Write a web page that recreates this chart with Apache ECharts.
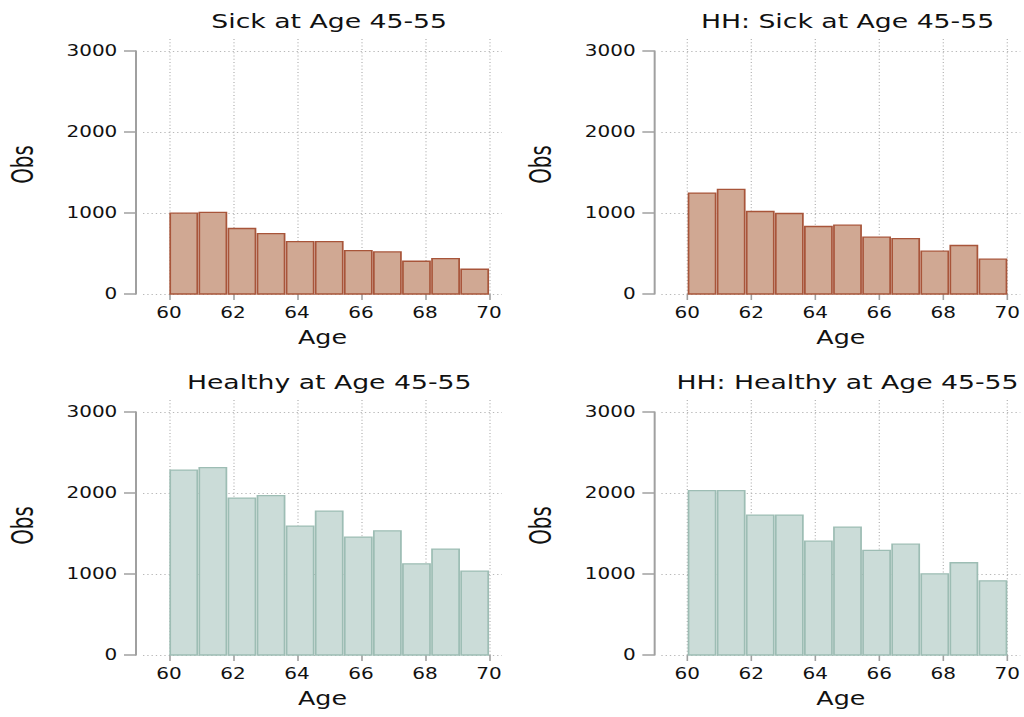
<!DOCTYPE html>
<html>
<head>
<meta charset="utf-8">
<script src="https://cdn.jsdelivr.net/npm/echarts@6/dist/echarts.min.js"></script>
<style>
html,body{margin:0;padding:0;background:#fff;overflow:hidden;}
#wrap{width:1024px;height:717px;overflow:hidden;}
#chart{width:768px;height:717px;transform:scaleX(1.3333333);transform-origin:0 0;}
</style>
</head>
<body>
<div id="wrap"><div id="chart"></div></div>
<script>
// ---- data ----
const panelTitles = ['Sick at Age 45-55', 'HH: Sick at Age 45-55', 'Healthy at Age 45-55', 'HH: Healthy at Age 45-55'];
const binStart = 60;
const binEnd = 70;
const binCount = 11;
const sickObs = [1005, 1014, 816, 754, 655, 655, 544, 527, 412, 445, 313];
const hhSickObs = [1253, 1298, 1026, 1001, 841, 857, 709, 692, 536, 606, 437];
const healthyObs = [2291, 2320, 1945, 1974, 1599, 1784, 1463, 1541, 1133, 1315, 1043];
const hhHealthyObs = [2036, 2036, 1735, 1735, 1413, 1587, 1298, 1376, 1010, 1146, 923];
const xTickValues = [60, 62, 64, 66, 68, 70];
const yTickValues = [0, 1000, 2000, 3000];
const xAxisName = 'Age';
const yAxisName = 'Obs';

// ---- styles / layout ----
const FONT = 'DejaVu Sans';
const NAME_FONT = '"DejaVu Sans Condensed", "Liberation Sans Narrow", "DejaVu Sans"';
const sickFill = '#d0a893', sickStroke = '#a8553a';
const healthyFill = '#cbdcd8', healthyStroke = '#9dbdb4';
const axisGray = '#a0a0a0';
const dotGray = '#b8b8b8';
const xMin = 59.1875, xMax = 70.406;
const panels = [
  {left: 107.25, top: 51,  vals: sickObs,      fill: sickFill,    stroke: sickStroke},
  {left: 496,    top: 51,  vals: hhSickObs,    fill: sickFill,    stroke: sickStroke},
  {left: 107.25, top: 412, vals: healthyObs,   fill: healthyFill, stroke: healthyStroke},
  {left: 496,    top: 412, vals: hhHealthyObs, fill: healthyFill, stroke: healthyStroke}
];
const gridW = 269.25, gridH = 243;

function makeBins(vals) {
  const w = (binEnd - binStart) / binCount;
  return vals.map((v, i) => [binStart + i * w, binStart + (i + 1) * w, v]);
}

const grid = [], xAxis = [], yAxis = [], series = [], title = [];
panels.forEach((p, i) => {
  grid.push({left: p.left, top: p.top, width: gridW, height: gridH, containLabel: false});
  title.push({
    text: panelTitles[i], left: p.left + gridW / 2, top: p.top - 45, textAlign: 'center',
    textStyle: {fontFamily: FONT, fontSize: 20, fontWeight: 'normal', color: '#111'}
  });
  xAxis.push({
    type: 'value', gridIndex: i, min: xMin, max: xMax,
    axisLine: {show: false},
    axisTick: {show: true, customValues: xTickValues, length: 6, lineStyle: {color: axisGray, width: 1.2}},
    axisLabel: {customValues: xTickValues, margin: 11, fontFamily: FONT, fontSize: 15, color: '#111'},
    splitLine: {show: false},
    name: xAxisName, nameLocation: 'middle', nameGap: 34,
    nameTextStyle: {fontFamily: FONT, fontSize: 19, color: '#111'}
  });
  yAxis.push({
    type: 'value', gridIndex: i, min: 0, max: 3000, interval: 1000, offset: 5.25,
    axisLine: {show: true, lineStyle: {color: axisGray, width: 1.5}},
    axisTick: {show: true, length: 9, lineStyle: {color: axisGray, width: 1.5}},
    axisLabel: {margin: 14, fontFamily: FONT, fontSize: 15, color: '#111', formatter: v => String(v)},
    splitLine: {show: true, lineStyle: {color: dotGray, width: 1, type: [1, 2.2]}},
    name: yAxisName, nameLocation: 'middle', nameGap: 74,
    nameTextStyle: {fontFamily: NAME_FONT, fontSize: 22, color: '#111', padding: [0, 0, 0, 16]}
  });
  series.push({
    type: 'custom', xAxisIndex: i, yAxisIndex: i,
    data: makeBins(p.vals),
    encode: {x: [0, 1], y: 2},
    z: 3,
    renderItem: (params, api) => {
      const a = api.coord([api.value(0), api.value(2)]);
      const b = api.coord([api.value(1), 0]);
      return {
        type: 'rect',
        shape: {x: a[0] + 0.9, y: a[1] + 0.6, width: b[0] - a[0] - 1.5, height: b[1] - a[1] - 0.6},
        style: {fill: p.fill, stroke: p.stroke, lineWidth: 1.3}
      };
    }
  });
});
// background grids for the vertical dotted gridlines
panels.forEach((p, i) => {
  const gi = panels.length + i;
  grid.push({left: p.left, top: p.top - 12, width: gridW, height: gridH + 12});
  xAxis.push({
    type: 'value', gridIndex: gi, min: xMin, max: xMax,
    axisLine: {show: false},
    axisTick: {show: false, customValues: xTickValues},
    axisLabel: {show: false, customValues: xTickValues},
    splitLine: {show: true, lineStyle: {color: dotGray, width: 1, type: [1, 2.3]}}
  });
  yAxis.push({type: 'value', gridIndex: gi, min: 0, max: 1, show: false, splitLine: {show: false}});
});

const chart = echarts.init(document.getElementById('chart'), null, {renderer: 'svg', width: 768, height: 717});
chart.setOption({
  backgroundColor: '#fff',
  animation: false,
  title, grid, xAxis, yAxis, series
});
</script>
</body>
</html>
